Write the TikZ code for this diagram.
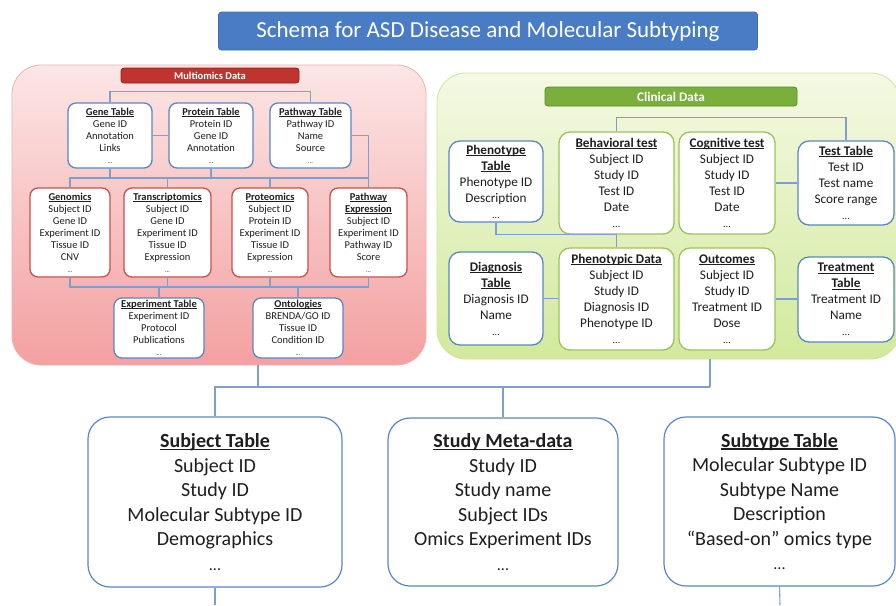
\documentclass[tikz,border=0pt]{standalone}
\usepackage{fontspec}
\setmainfont{Carlito}
\definecolor{ink}{HTML}{1E1E1E}
\definecolor{tblblue}{HTML}{5A86C5}
\definecolor{datred}{HTML}{C8504F}
\definecolor{datgreen}{HTML}{9CC35A}
\definecolor{wire}{HTML}{7D9FD0}
\definecolor{pinktop}{HTML}{FCE6E6}
\definecolor{pinkbot}{HTML}{F3A0A0}
\definecolor{pinkedge}{HTML}{EFB0B0}
\definecolor{limetop}{HTML}{F4F9E3}
\definecolor{limebot}{HTML}{D2E99C}
\definecolor{limeedge}{HTML}{CFE3A6}
\definecolor{titlefill}{HTML}{4A7CC6}
\definecolor{titleedge}{HTML}{3F6DB3}
\definecolor{omicsfill}{HTML}{C0332F}
\definecolor{omicsedge}{HTML}{8E1F1C}
\definecolor{clinfill}{HTML}{7AAF3C}
\definecolor{clinedge}{HTML}{5C8A2A}
% bold heading with an underline set close to the baseline
\newsavebox{\hdrbox}
\newcommand{\hdr}[1]{\sbox\hdrbox{\textbf{#1}}\rlap{\rule[-0.13em]{\wd\hdrbox}{0.07em}}\usebox\hdrbox}
\newcommand{\etcS}{{\fontsize{6.5}{12}\selectfont...}}
\newcommand{\etcM}{{\fontsize{10}{16}\selectfont...}}
\newcommand{\etcL}{{\fontsize{16}{24.5}\selectfont...}}
\begin{document}
\begin{tikzpicture}[x=1pt,y=-1pt,
  wired/.style={draw=wire, line width=1.1pt},
  panel/.style={rounded corners=29pt, line width=0.8pt, inner sep=0pt},
  banner/.style={rounded corners=3pt, line width=0.8pt, inner sep=0pt, text=white},
  omicstbl/.style={draw=tblblue, line width=1.3pt, fill=white, rounded corners=8pt,
    align=center, inner sep=0pt, text=ink, font=\fontsize{10.5}{12}\selectfont},
  omicsdat/.style={omicstbl, draw=datred},
  clintbl/.style={draw=tblblue, line width=1.3pt, fill=white, rounded corners=11pt,
    align=center, inner sep=0pt, text=ink, font=\fontsize{13.2}{16}\selectfont},
  clindat/.style={clintbl, draw=datgreen},
  maintbl/.style={draw=tblblue, line width=1.2pt, fill=white, rounded corners=22pt,
    align=center, inner sep=0pt, text=ink, font=\fontsize{20}{24.5}\selectfont}]
\useasboundingbox (0,0) rectangle (896,605);
\begin{scope}
\clip (0,0) rectangle (896,605);

% title
\node[banner, fill=titlefill, draw=titleedge, minimum width=539pt, minimum height=38pt,
  font=\fontsize{23}{26}\selectfont] (title) at (488,31)
  {Schema for ASD Disease and Molecular Subtyping};

% the two data panels
\node[panel, draw=pinkedge, top color=pinktop, bottom color=pinkbot,
  minimum width=414pt, minimum height=300pt] (omics) at (219,215) {};
\node[panel, draw=limeedge, top color=limetop, bottom color=limebot,
  minimum width=463pt, minimum height=286pt] (clin) at (668.5,216) {};

\node[banner, fill=omicsfill, draw=omicsedge, minimum width=178pt, minimum height=15pt,
  font=\fontsize{10.5}{12}\selectfont\bfseries] (omicslbl) at (210,75.5) {Multiomics Data};
\node[banner, fill=clinfill, draw=clinedge, minimum width=252pt, minimum height=19pt,
  font=\fontsize{13.2}{15}\selectfont\bfseries] (clinlbl) at (671,96.5) {Clinical Data};

% multiomics tables
\node[omicstbl, minimum width=84pt, minimum height=65pt] (genetbl) at (110,135.5)
  {\hdr{Gene Table}\\Gene ID\\Annotation\\Links\\\etcS};
\node[omicstbl, minimum width=84pt, minimum height=65pt] (prottbl) at (211,135.5)
  {\hdr{Protein Table}\\Protein ID\\Gene ID\\Annotation\\\etcS};
\node[omicstbl, minimum width=81pt, minimum height=65pt] (pathtbl) at (310.5,135.5)
  {\hdr{Pathway Table}\\Pathway ID\\Name\\Source\\\etcS};

\node[omicsdat, minimum width=80pt, minimum height=89pt] (genom) at (70,232.5)
  {\hdr{Genomics}\\Subject ID\\Gene ID\\Experiment ID\\Tissue ID\\CNV\\\etcS};
\node[omicsdat, minimum width=87pt, minimum height=89pt] (transc) at (167.5,232.5)
  {\hdr{Transcriptomics}\\Subject ID\\Gene ID\\Experiment ID\\Tissue ID\\Expression\\\etcS};
\node[omicsdat, minimum width=76pt, minimum height=89pt] (proteo) at (270,232.5)
  {\hdr{Proteomics}\\Subject ID\\Protein ID\\Experiment ID\\Tissue ID\\Expression\\\etcS};
\node[omicsdat, minimum width=77pt, minimum height=89pt] (pathexp) at (368.5,232.5)
  {\hdr{Pathway}\\\hdr{Expression}\\Subject ID\\Experiment ID\\Pathway ID\\Score\\\etcS};

\node[omicstbl, minimum width=90pt, minimum height=60pt] (exptbl) at (159,328)
  {\hdr{Experiment Table}\\Experiment ID\\Protocol\\Publications\\\etcS};
\node[omicstbl, minimum width=90pt, minimum height=60pt] (onto) at (298,328)
  {\hdr{Ontologies}\\BRENDA/GO ID\\Tissue ID\\Condition ID\\\etcS};

% clinical tables
\node[clintbl, minimum width=94pt, minimum height=81pt] (phentbl) at (496,181.5)
  {\hdr{Phenotype}\\\hdr{Table}\\Phenotype ID\\Description\\\etcM};
\node[clindat, minimum width=115pt, minimum height=102pt] (behav) at (616.5,183)
  {\hdr{Behavioral test}\\Subject ID\\Study ID\\Test ID\\Date\\\etcM};
\node[clindat, minimum width=96pt, minimum height=102pt] (cogn) at (727,183)
  {\hdr{Cognitive test}\\Subject ID\\Study ID\\Test ID\\Date\\\etcM};
\node[clintbl, minimum width=96pt, minimum height=84pt] (testtbl) at (846,183)
  {\hdr{Test Table}\\Test ID\\Test name\\Score range\\\etcM};

\node[clintbl, minimum width=94pt, minimum height=93pt] (diagtbl) at (496,298.5)
  {\hdr{Diagnosis}\\\hdr{Table}\\Diagnosis ID\\Name\\\etcM};
\node[clindat, minimum width=115pt, minimum height=102pt] (phendat) at (616.5,299)
  {\hdr{Phenotypic Data}\\Subject ID\\Study ID\\Diagnosis ID\\Phenotype ID\\\etcM};
\node[clindat, minimum width=96pt, minimum height=102pt] (outc) at (727,299)
  {\hdr{Outcomes}\\Subject ID\\Study ID\\Treatment ID\\Dose\\\etcM};
\node[clintbl, minimum width=96pt, minimum height=85pt] (treattbl) at (846,299.5)
  {\hdr{Treatment}\\\hdr{Table}\\Treatment ID\\Name\\\etcM};

% shared tables
\node[maintbl, minimum width=254pt, minimum height=170pt] (subj) at (215,502)
  {\hdr{Subject Table}\\Subject ID\\Study ID\\Molecular Subtype ID\\Demographics\\\etcL};
\node[maintbl, minimum width=230pt, minimum height=168pt] (study) at (503,502)
  {\hdr{Study Meta-data}\\Study ID\\Study name\\Subject IDs\\Omics Experiment IDs\\\etcL};
\node[maintbl, minimum width=231pt, minimum height=169pt] (subtype) at (779.5,501.5)
  {\hdr{Subtype Table}\\Molecular Subtype ID\\Subtype Name\\Description\\“Based-on” omics type\\\etcL};

% bus heights
\coordinate (omicsbusA) at (0,178);
\coordinate (omicsbusB) at (0,287);
\coordinate (lowbus) at (0,387);
\coordinate (omicsdrop) at (258,365);
\coordinate (clindrop) at (710,359);
\coordinate (subjend) at (215,605);
\coordinate (subtypeend) at (780,605);

% multiomics wiring
\draw[wired] (genetbl.north) -- ++(0,-11) -| (pathtbl.north);
\draw[wired] (genetbl.east) -- (prottbl.west);
\draw[wired] (pathtbl.east) -| (pathexp.north);
\draw[wired] (genom.north) -- (genom.north |- omicsbusA) -- (pathexp.north |- omicsbusA);
\draw[wired] (genetbl.south) -- (genetbl.south |- omicsbusA);
\draw[wired] (prottbl.south) -- (prottbl.south |- omicsbusA);
\draw[wired] (transc.north) -- (transc.north |- omicsbusA);
\draw[wired] (proteo.north) -- (proteo.north |- omicsbusA);
\draw[wired] (genom.south) -- (genom.south |- omicsbusB) -- (pathexp.south |- omicsbusB) -- (pathexp.south);
\draw[wired] (transc.south) -- (transc.south |- omicsbusB);
\draw[wired] (proteo.south) -- (proteo.south |- omicsbusB);
\draw[wired] (exptbl.north) -- (exptbl.north |- omicsbusB);
\draw[wired] (onto.north) -- (onto.north |- omicsbusB);

% clinical wiring
\draw[wired] (behav.north) -- ++(0,-14) -| (testtbl.north);
\draw[wired] (cogn.east) -- (testtbl.west);
\draw[wired] (phentbl.south) |- (behav.south);
\draw[wired] (behav.south) -- (phendat.north);
\draw[wired] (diagtbl.east) -- (diagtbl.east -| phendat.west);
\draw[wired] (outc.east) -- (outc.east -| treattbl.west);

% wiring to the shared tables
\draw[wired] (omicsdrop) -- (omicsdrop |- lowbus);
\draw[wired] (clindrop) -- (clindrop |- lowbus);
\draw[wired] (subj.north) -- (subj.north |- lowbus) -- (clindrop |- lowbus);
\draw[wired] (study.north) -- (study.north |- lowbus);
\draw[wired] (subj.south) -- (subjend);
\draw[wired] (subtype.south) -- (subtypeend);
\end{scope}
\end{tikzpicture}
\end{document}
